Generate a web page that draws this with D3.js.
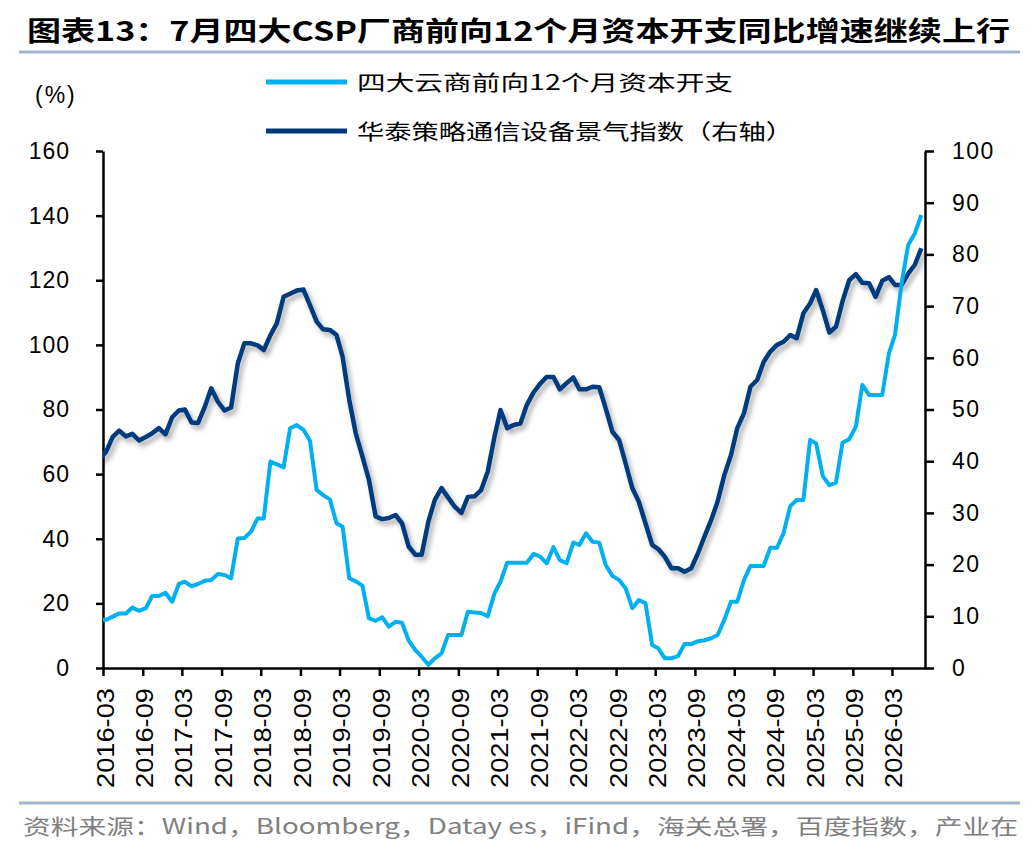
<!DOCTYPE html>
<html>
<head>
<meta charset="utf-8">
<script src="https://cdn.jsdelivr.net/npm/d3@7/dist/d3.min.js"></script>
<style>
  body { margin: 0; background: #fff; }
  svg text { font-family: "Liberation Sans", Arial, "Noto Sans CJK SC", sans-serif; }
  .cjk { font-family: "Noto Sans CJK SC", "Liberation Sans", sans-serif; }
</style>
</head>
<body>
<div id="chart"></div>
<script>
// monthly values, 2016-02 .. 2026-07
const capexYoy = [
  14.9, 14.9, 15.9, 16.9, 16.9, 18.7, 17.7, 18.5, 22.3, 22.3, 23.3, 20.5, 26.0,
  26.7, 25.3, 26.0, 27.0, 27.2, 29.1, 28.8, 27.8, 40.1, 40.2, 42.2, 46.3, 46.3,
  63.9, 63.0, 62.1, 74.2, 75.2, 73.7, 70.3, 55.1, 53.5, 52.2, 44.8, 43.7, 27.8,
  26.8, 25.5, 15.4, 14.6, 15.7, 12.8, 14.3, 14.0, 8.5, 5.5, 3.5, 1.0, 3.0,
  4.5, 10.2, 10.2, 10.2, 17.4, 17.2, 17.0, 16.0, 23.1, 26.7, 32.6, 32.6, 32.6,
  32.6, 35.3, 34.5, 32.4, 37.4, 33.4, 32.4, 38.8, 38.1, 41.7, 39.1, 38.8, 31.9,
  28.5, 27.2, 24.7, 18.5, 21.0, 20.1, 7.1, 6.1, 3.0, 3.0, 3.7, 7.4, 7.4,
  8.3, 8.6, 9.2, 10.2, 14.9, 20.5, 20.5, 27.2, 31.6, 31.6, 31.6, 37.2, 37.2,
  41.7, 50.1, 52.0, 52.0, 70.6, 69.5, 59.4, 56.6, 57.4, 69.7, 70.8, 74.7, 87.6,
  84.5, 84.5, 84.5, 97.4, 103.1, 119.1, 130.9, 134.5, 140.2
];
const climateIndex = [
  40.5, 41.8, 44.7, 45.9, 44.8, 45.3, 44.0, 44.7, 45.4, 46.4, 45.2, 48.5, 49.8,
  50.0, 47.5, 47.4, 50.5, 54.1, 51.5, 49.8, 50.4, 58.9, 62.8, 62.8, 62.4, 61.5,
  64.4, 66.7, 71.8, 72.4, 73.0, 73.2, 70.2, 67.0, 65.5, 65.4, 64.4, 60.2, 51.8,
  45.4, 40.9, 36.4, 29.3, 28.8, 29.0, 29.6, 28.0, 23.5, 21.9, 21.9, 28.3, 32.5,
  34.8, 33.0, 31.2, 30.0, 33.1, 33.2, 34.4, 38.0, 44.7, 49.9, 46.4, 47.0, 47.3,
  50.9, 53.3, 55.0, 56.3, 56.3, 53.9, 55.1, 56.2, 53.9, 53.9, 54.4, 54.3, 50.2,
  45.7, 44.1, 39.6, 34.8, 32.2, 28.0, 23.8, 23.0, 21.5, 19.3, 19.3, 18.6, 19.3,
  22.2, 25.4, 28.6, 32.2, 37.3, 41.2, 46.4, 49.3, 54.4, 55.7, 59.2, 61.2, 62.5,
  63.1, 64.4, 63.8, 68.6, 70.5, 73.1, 69.2, 64.9, 66.0, 70.9, 75.0, 76.2, 74.5,
  74.4, 71.8, 74.9, 75.6, 74.1, 74.1, 76.3, 78.0, 81.2
];
const tickLabels = [
  "2016-03", "2016-09", "2017-03", "2017-09", "2018-03", "2018-09", "2019-03",
  "2019-09", "2020-03", "2020-09", "2021-03", "2021-09", "2022-03", "2022-09",
  "2023-03", "2023-09", "2024-03", "2024-09", "2025-03", "2025-09", "2026-03"
];
const leftTicks = [0, 20, 40, 60, 80, 100, 120, 140, 160];
const rightTicks = [0, 10, 20, 30, 40, 50, 60, 70, 80, 90, 100];
const seriesNames = ["四大云商前向12个月资本开支", "华泰策略通信设备景气指数（右轴）"];
const seriesColors = ["#00b0f0", "#003a7d"];

const width = 1036, height = 852;
const margin = { top: 151, right: 111, bottom: 184, left: 103 };
const plotBottom = height - margin.bottom;
const plotRight = width - margin.right;

const parseMonth = d3.timeParse("%Y-%m");
const months = capexYoy.map((d, i) => d3.timeMonth.offset(new Date(2016, 1, 15), i));

const x = d3.scaleTime()
  .domain([new Date(2016, 2, 1), new Date(2026, 7, 1)])
  .range([margin.left, plotRight]);
const yLeft = d3.scaleLinear().domain([0, 160]).range([plotBottom, margin.top]);
const yRight = d3.scaleLinear().domain([0, 100]).range([plotBottom, margin.top]);

const svg = d3.select("#chart").append("svg")
  .attr("width", width)
  .attr("height", height);

const defs = svg.append("defs");
defs.append("clipPath").attr("id", "plot")
  .append("rect")
  .attr("x", margin.left).attr("y", 100)
  .attr("width", plotRight - margin.left).attr("height", plotBottom - 100);
defs.append("filter").attr("id", "shadow")
  .attr("x", "-5%").attr("y", "-5%").attr("width", "110%").attr("height", "115%")
  .append("feDropShadow")
  .attr("dx", 3).attr("dy", 4).attr("stdDeviation", 2.5)
  .attr("flood-color", "#000").attr("flood-opacity", 0.33);

// title and rules
svg.append("text")
  .attr("class", "cjk")
  .attr("x", 27).attr("y", 41)
  .attr("textLength", 983).attr("lengthAdjust", "spacingAndGlyphs")
  .style("font-size", "27px").style("font-weight", "bold").style("fill", "#000")
  .text("图表13：7月四大CSP厂商前向12个月资本开支同比增速继续上行");

svg.append("line")
  .attr("x1", 19).attr("x2", 1020).attr("y1", 52).attr("y2", 52)
  .style("stroke", "#a3b5ca").style("stroke-width", 3);
svg.append("line")
  .attr("x1", 19).attr("x2", 1020).attr("y1", 803).attr("y2", 803)
  .style("stroke", "#a3b5ca").style("stroke-width", 3);

svg.append("text")
  .attr("class", "cjk")
  .attr("x", 23).attr("y", 834)
  .attr("textLength", 995).attr("lengthAdjust", "spacingAndGlyphs")
  .style("font-size", "21px").style("fill", "#808080")
  .text("资料来源：Wind，Bloomberg，Datay es，iFind，海关总署，百度指数，产业在");

// legend
const legend = svg.append("g");
[82, 131].forEach((ly, i) => {
  legend.append("line")
    .attr("x1", 266).attr("x2", 347).attr("y1", ly).attr("y2", ly)
    .style("stroke", seriesColors[i]).style("stroke-width", 5);
  legend.append("text")
    .attr("class", "cjk")
    .attr("x", 357).attr("y", ly + 8)
    .attr("textLength", i === 0 ? 376 : 436).attr("lengthAdjust", "spacingAndGlyphs")
    .style("font-size", "21px").style("fill", "#000")
    .text(seriesNames[i]);
});

svg.append("text")
  .attr("x", 35).attr("y", 103)
  .style("font-size", "23px").style("letter-spacing", "2px")
  .text("(%)");

// axes
const gLeft = svg.append("g")
  .attr("transform", `translate(${margin.left},0)`)
  .call(d3.axisLeft(yLeft).tickValues(leftTicks).tickSize(7).tickSizeOuter(0).tickPadding(26));
const gRight = svg.append("g")
  .attr("transform", `translate(${plotRight},0)`)
  .call(d3.axisRight(yRight).tickValues(rightTicks).tickSize(9).tickSizeOuter(0).tickPadding(18));
const gBottom = svg.append("g")
  .attr("transform", `translate(0,${plotBottom})`)
  .call(d3.axisBottom(x)
    .tickValues(tickLabels.map(parseMonth))
    .tickFormat((d, i) => tickLabels[i])
    .tickSize(8).tickSizeOuter(0));

[gLeft, gRight, gBottom].forEach(g => {
  g.select(".domain").style("stroke", "#000").style("stroke-width", 2.5);
  g.selectAll(".tick line").style("stroke", "#000").style("stroke-width", 2.5);
  g.selectAll("text")
    .style("font-family", "'Liberation Sans', Arial, sans-serif")
    .style("font-size", "23px").style("fill", "#000");
});
gLeft.selectAll("text").style("letter-spacing", "1px");
gRight.selectAll("text").style("letter-spacing", "1.5px");
gBottom.selectAll("text")
  .attr("transform", "rotate(-90)")
  .attr("text-anchor", "end")
  .attr("x", -20).attr("y", 10).attr("dy", null)
  .attr("textLength", 100).attr("lengthAdjust", "spacingAndGlyphs");

// lines
const lines = svg.append("g").attr("clip-path", "url(#plot)");

const darkLine = d3.line()
  .x((d, i) => x(months[i]))
  .y(d => yRight(d));
const lightLine = d3.line()
  .x((d, i) => x(months[i]))
  .y(d => yLeft(d));

lines.append("path")
  .datum(climateIndex)
  .attr("d", darkLine)
  .attr("filter", "url(#shadow)")
  .style("fill", "none")
  .style("stroke", seriesColors[1])
  .style("stroke-width", 4.5)
  .style("stroke-linejoin", "round");

lines.append("path")
  .datum(capexYoy)
  .attr("d", lightLine)
  .style("fill", "none")
  .style("stroke", seriesColors[0])
  .style("stroke-width", 4)
  .style("stroke-linejoin", "round");
</script>
</body>
</html>
